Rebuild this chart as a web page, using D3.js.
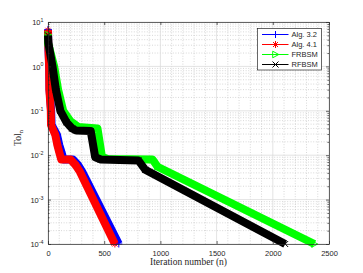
<!DOCTYPE html>
<html lang="en">
	<head>
		<meta charset="utf-8">
		<title>tol</title>
		<script type="text/javascript" src="https://cdn.jsdelivr.net/npm/d3@7/dist/d3.min.js"></script>
		<style type="text/css">
			body {
			  margin: 0;
			  background: #fff;
			}

			svg {
			  display: block;
			}

			.axis text {
			  font-family: "Liberation Sans", Arial, sans-serif;
			  font-size: 7.5px;
			  fill: #262626;
			}

			.axis path,
			.axis line {
			  stroke: #262626;
			  stroke-width: 0.7;
			}

			.label {
			  font-family: "Liberation Serif", "Times New Roman", serif;
			  font-size: 9.5px;
			  fill: #262626;
			}
		</style>
	</head>
	<body>

		<script type="text/javascript">

			var w = 363;
			var h = 273;
			var p_left = 48, p_right = 329, p_top = 22, p_bottom = 244;

			// iteration number / Tol_n
			var alg32_n   = [0, 2, 11, 14, 28, 32, 80, 100, 120, 138, 222, 268, 305, 630];
			var alg32_tol = [6.8, 3.5, 1.0, 0.30, 0.10, 0.048, 0.0285, 0.017, 0.0117, 0.0080, 0.0080, 0.0060, 0.0042, 1e-4];

			var alg41_n   = [0, 2, 10, 12, 25, 27, 65, 83, 100, 118, 200, 245, 285, 595];
			var alg41_tol = [6.5, 3.4, 1.0, 0.30, 0.10, 0.048, 0.0285, 0.017, 0.0117, 0.0080, 0.0080, 0.0060, 0.0042, 1e-4];

			var frbsm_n   = [0, 1, 55, 90, 135, 200, 270, 440, 480, 530, 930, 975, 2370];
			var frbsm_tol = [5.2, 3.3, 1.0, 0.30, 0.10, 0.058, 0.043, 0.040, 0.0092, 0.0082, 0.0080, 0.0055, 1e-4];

			var rfbsm_n   = [0, 3, 40, 70, 110, 165, 215, 250, 380, 420, 470, 805, 865, 2110];
			var rfbsm_tol = [5.0, 3.4, 1.0, 0.30, 0.10, 0.055, 0.040, 0.036, 0.035, 0.0090, 0.0080, 0.0076, 0.0047, 1e-4];

			var x_ticks = [0, 500, 1000, 1500, 2000, 2500];
			var y_exp = [-4, -3, -2, -1, 0, 1];

			var series = [
				{name: "Alg. 3.2", n: alg32_n, tol: alg32_tol, color: "#0000ff", marker: "plus"},
				{name: "Alg. 4.1", n: alg41_n, tol: alg41_tol, color: "#ff0000", marker: "star"},
				{name: "FRBSM",    n: frbsm_n, tol: frbsm_tol, color: "#00ff00", marker: "tri"},
				{name: "RFBSM",    n: rfbsm_n, tol: rfbsm_tol, color: "#000000", marker: "cross"}
			];

			var markers = {
				plus:  "M-3.5,0H3.5M0,-3.5V3.5",
				cross: "M-3,-3L3,3M-3,3L3,-3",
				star:  "M-3.5,0H3.5M0,-3.5V3.5M-2.5,-2.5L2.5,2.5M-2.5,2.5L2.5,-2.5",
				tri:   "M-2.8,-3.3L3.3,0L-2.8,3.3Z"
			};

			var x = d3.scaleLinear()
					  .domain([0, 2500])
					  .range([p_left, p_right]);

			var y = d3.scaleLog()
					  .domain([1e-4, 10])
					  .range([p_bottom, p_top]);

			var svg = d3.select("body").append("svg")
				.attr("width", w)
				.attr("height", h);

			// minor grid
			var x_minor = d3.range(100, 2500, 100).filter(function(d) { return d % 500 != 0; });
			var y_minor = [];
			y_exp.slice(0, 5).forEach(function(e) {
				for (var k = 2; k < 10; k++) { y_minor.push(k * Math.pow(10, e)); }
			});

			svg.selectAll(".xminor")
			   .data(x_minor)
			   .enter().append("line")
			   .attr("x1", function(d) { return x(d); }).attr("x2", function(d) { return x(d); })
			   .attr("y1", p_top).attr("y2", p_bottom)
			   .attr("stroke", "#bdbdbd").attr("stroke-width", 0.6)
			   .attr("stroke-dasharray", "1,1.6");

			svg.selectAll(".yminor")
			   .data(y_minor)
			   .enter().append("line")
			   .attr("x1", p_left).attr("x2", p_right)
			   .attr("y1", function(d) { return y(d); }).attr("y2", function(d) { return y(d); })
			   .attr("stroke", "#bdbdbd").attr("stroke-width", 0.6)
			   .attr("stroke-dasharray", "1,1.6");

			// major grid
			svg.selectAll(".xmajor")
			   .data(x_ticks)
			   .enter().append("line")
			   .attr("x1", function(d) { return x(d); }).attr("x2", function(d) { return x(d); })
			   .attr("y1", p_top).attr("y2", p_bottom)
			   .attr("stroke", "#dcdcdc").attr("stroke-width", 0.8);

			svg.selectAll(".ymajor")
			   .data(y_exp)
			   .enter().append("line")
			   .attr("x1", p_left).attr("x2", p_right)
			   .attr("y1", function(d) { return y(Math.pow(10, d)); }).attr("y2", function(d) { return y(Math.pow(10, d)); })
			   .attr("stroke", "#dcdcdc").attr("stroke-width", 0.8);

			// curves (thick bands of markers in the original)
			var line = d3.line()
						 .x(function(d) { return x(d[0]); })
						 .y(function(d) { return y(d[1]); });

			series.forEach(function(s) {
				var pts = s.n.map(function(d, i) { return [d, s.tol[i]]; });

				svg.append("path")
				   .datum(pts)
				   .attr("d", line)
				   .attr("fill", "none")
				   .attr("stroke", s.color)
				   .attr("stroke-width", 8)
				   .attr("stroke-linejoin", "round");

				svg.selectAll(".m" + s.marker)
				   .data(pts)
				   .enter().append("path")
				   .attr("transform", function(d) { return "translate(" + x(d[0]) + "," + y(d[1]) + ")"; })
				   .attr("d", markers[s.marker])
				   .attr("fill", "none")
				   .attr("stroke", s.color)
				   .attr("stroke-width", 1);
			});

			// axes, ticks inside, box on
			svg.append("g")
			   .attr("class", "axis")
			   .attr("transform", "translate(0," + p_bottom + ")")
			   .call(d3.axisBottom(x).tickValues(x_ticks).tickSize(-3).tickPadding(6.5).tickSizeOuter(0)
			   .tickFormat(function(d) { return d; }));

			svg.append("g")
			   .attr("class", "axis")
			   .attr("transform", "translate(0," + p_top + ")")
			   .call(d3.axisTop(x).tickValues(x_ticks).tickSize(-3).tickFormat("").tickSizeOuter(0));

			var yl = svg.append("g")
			   .attr("class", "axis")
			   .attr("transform", "translate(" + p_left + ",0)")
			   .call(d3.axisLeft(y).tickValues(y_exp.map(function(e) { return Math.pow(10, e); }))
			   .tickSize(-3).tickFormat("").tickSizeOuter(0));

			yl.selectAll(".tick").append("text")
			  .attr("x", -4.5)
			  .attr("y", 2.7)
			  .attr("text-anchor", "end")
			  .text("10")
			  .append("tspan")
			  .attr("dy", -3.2)
			  .style("font-size", "5.3px")
			  .text(function(d) { return Math.round(Math.log10(d)); });

			svg.append("g")
			   .attr("class", "axis")
			   .attr("transform", "translate(" + p_right + ",0)")
			   .call(d3.axisRight(y).tickValues(y_exp.map(function(e) { return Math.pow(10, e); }))
			   .tickSize(-3).tickFormat("").tickSizeOuter(0));

			// minor ticks
			svg.append("g")
			   .attr("class", "axis")
			   .attr("transform", "translate(" + p_left + ",0)")
			   .call(d3.axisLeft(y).tickValues(y_minor).tickSize(-1.6).tickFormat(""))
			   .select(".domain").remove();

			svg.append("g")
			   .attr("class", "axis")
			   .attr("transform", "translate(" + p_right + ",0)")
			   .call(d3.axisRight(y).tickValues(y_minor).tickSize(-1.6).tickFormat(""))
			   .select(".domain").remove();

			// labels
			svg.append("text")
			   .attr("class", "label")
			   .attr("x", (p_left + p_right) / 2)
			   .attr("y", 265)
			   .attr("text-anchor", "middle")
			   .text("Iteration number (n)");

			svg.append("text")
			   .attr("class", "label")
			   .attr("transform", "translate(21," + ((p_top + p_bottom) / 2 + 5) + ") rotate(-90)")
			   .attr("text-anchor", "middle")
			   .text("Tol")
			   .append("tspan")
			   .attr("dy", 2)
			   .style("font-size", "6.5px")
			   .text("n");

			// legend
			var lg = svg.append("g")
			   .attr("transform", "translate(257.5,28.5)");

			lg.append("rect")
			  .attr("width", 64)
			  .attr("height", 41.5)
			  .attr("fill", "#fff")
			  .attr("stroke", "#262626")
			  .attr("stroke-width", 0.7);

			var item = lg.selectAll(".item")
			   .data(series)
			   .enter().append("g")
			   .attr("transform", function(d, i) { return "translate(0," + (6 + i * 10) + ")"; });

			item.append("line")
			    .attr("x1", 4.5).attr("x2", 31)
			    .attr("stroke", function(d) { return d.color; })
			    .attr("stroke-width", 1);

			item.append("path")
			    .attr("transform", "translate(18,0)")
			    .attr("d", function(d) { return markers[d.marker]; })
			    .attr("fill", "none")
			    .attr("stroke", function(d) { return d.color; })
			    .attr("stroke-width", 1);

			item.append("text")
			    .attr("x", 34)
			    .attr("y", 2.7)
			    .style("font-family", "'Liberation Sans', Arial, sans-serif")
			    .style("font-size", "7.5px")
			    .attr("fill", "#262626")
			    .text(function(d) { return d.name; });

		</script>
	</body>
</html>
